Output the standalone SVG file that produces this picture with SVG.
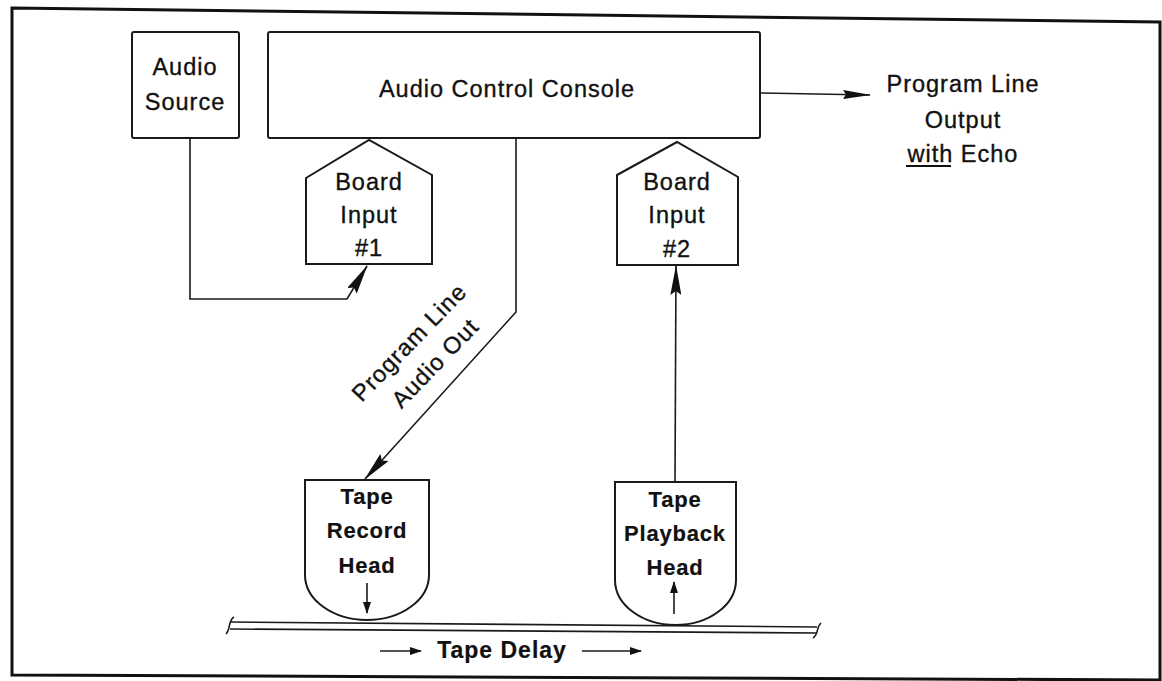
<svg xmlns="http://www.w3.org/2000/svg" width="1162" height="681" viewBox="0 0 1162 681">
<style>
.box{fill:none;stroke:#1a1a1a;stroke-width:2}
.ln{fill:none;stroke:#1a1a1a;stroke-width:1.6}
.t{font-family:"Liberation Sans",Arial,sans-serif;font-size:23.5px;letter-spacing:1px;fill:#111;stroke:#111;stroke-width:0.35;text-anchor:middle}
.b{font-weight:bold;font-size:22px;letter-spacing:0.8px;stroke-width:0.2}
</style>
<defs>
<marker id="big" markerUnits="userSpaceOnUse" markerWidth="30" markerHeight="11" refX="29" refY="5.5" orient="auto">
<path d="M0,0 L30,5.5 L0,11 L4,5.5 Z" fill="#111"/>
</marker>
<marker id="out" markerUnits="userSpaceOnUse" markerWidth="28" markerHeight="9" refX="27" refY="4.5" orient="auto">
<path d="M0,0 L28,4.5 L0,9 L3,4.5 Z" fill="#111"/>
</marker>
<marker id="sm" markerUnits="userSpaceOnUse" markerWidth="12" markerHeight="8" refX="11" refY="4" orient="auto">
<path d="M0,0 L12,4 L0,8 Z" fill="#111"/>
</marker>
</defs>
<rect width="1162" height="681" fill="#fff"/>
<path d="M12,8 L1160,22 L1160,680 L12,675 Z" fill="none" stroke="#111" stroke-width="3"/>

<g id="audio-source">
<rect class="box" x="132" y="32" width="107" height="106" rx="2"/>
<text class="t" x="185" y="75">Audio</text>
<text class="t" x="185" y="110">Source</text>
</g>

<g id="console">
<rect class="box" x="268" y="32" width="492" height="106" rx="2"/>
<text class="t" x="507" y="97">Audio Control Console</text>
</g>

<g id="board-input-1">
<path class="box" d="M306,178 L369,140 L432,175 L432,264 L306,264 Z"/>
<text class="t" x="369" y="190">Board</text>
<text class="t" x="369" y="223">Input</text>
<text class="t" x="369" y="256">#1</text>
</g>

<g id="board-input-2">
<path class="box" d="M617,175 L677,142 L738,177 L738,265 L617,265 Z"/>
<text class="t" x="677" y="190">Board</text>
<text class="t" x="677" y="223">Input</text>
<text class="t" x="677" y="257">#2</text>
</g>

<g id="output-label">
<text class="t" x="963" y="92">Program Line</text>
<text class="t" x="963" y="128">Output</text>
<text class="t" x="963" y="162">with Echo</text>
<line x1="906" y1="166" x2="951" y2="166" stroke="#111" stroke-width="2"/>
</g>

<g id="record-head">
<path class="box" d="M305,480 H429 V575 A62,45 0 0 1 305,575 Z"/>
<text class="t b" x="367" y="504">Tape</text>
<text class="t b" x="367" y="538">Record</text>
<text class="t b" x="367" y="573">Head</text>
<line class="ln" x1="367" y1="583" x2="367" y2="613" marker-end="url(#sm)"/>
</g>

<g id="playback-head">
<path class="box" d="M615,482 H736 V580 A60.5,45 0 0 1 615,580 Z"/>
<text class="t b" x="675" y="507">Tape</text>
<text class="t b" x="675" y="541">Playback</text>
<text class="t b" x="675" y="575">Head</text>
<line class="ln" x1="674" y1="614" x2="674" y2="582" marker-end="url(#sm)"/>
</g>

<g id="tape">
<line class="ln" x1="230" y1="622" x2="817" y2="627"/>
<line class="ln" x1="230" y1="629" x2="817" y2="633"/>
<path class="ln" d="M234,617 C228,620 231,629 226,634"/>
<path class="ln" d="M821,623 C816,627 819,634 813,638"/>
<text class="t b" x="502" y="658" style="font-size:23px;letter-spacing:1px">Tape Delay</text>
<line class="ln" x1="380" y1="651" x2="421" y2="651" marker-end="url(#sm)"/>
<line class="ln" x1="582" y1="651" x2="641" y2="651" marker-end="url(#sm)"/>
</g>

<g id="connectors">
<polyline class="ln" points="190,138 190,299 347,299 367,266" marker-end="url(#big)"/>
<polyline class="ln" points="516,138 516,312 365,479" marker-end="url(#big)"/>
<line class="ln" x1="675" y1="482" x2="676" y2="266" marker-end="url(#big)"/>
<line class="ln" x1="760" y1="93" x2="870" y2="95" marker-end="url(#out)"/>
<text class="t" transform="translate(415,348) rotate(-46)"><tspan x="0" y="0">Program Line</tspan><tspan x="3" y="33">Audio Out</tspan></text>
</g>
</svg>
